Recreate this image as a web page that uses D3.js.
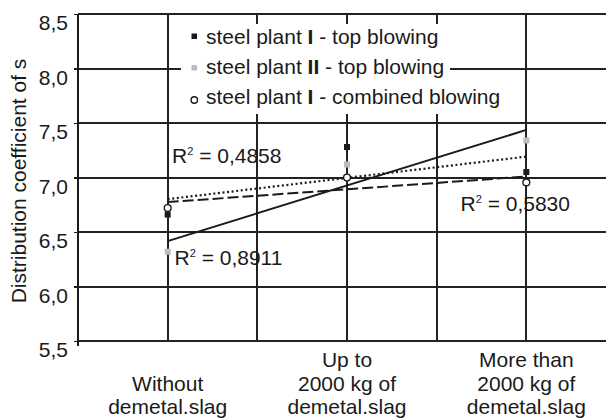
<!DOCTYPE html>
<html>
<head>
<meta charset="utf-8">
<script src="https://cdn.jsdelivr.net/npm/d3@7"></script>
<style>
  html, body { margin: 0; padding: 0; background: #fff; }
  svg { display: block; font-family: "Liberation Sans", Arial, sans-serif; }
</style>
</head>
<body>
<div id="chart"></div>
<script>
// categories (multi-line labels)
const categories = [
  ["Without", "demetal.slag"],
  ["Up to", "2000 kg of", "demetal.slag"],
  ["More than", "2000 kg of", "demetal.slag"]
];
// series values
const plantITop = [6.66, 7.28, 7.05];
const plantIITop = [6.32, 7.12, 7.34];
const plantICombined = [6.72, 7.0, 6.955];
const yTicks = [5.5, 6.0, 6.5, 7.0, 7.5, 8.0, 8.5];
const legendNames = [
  ["steel plant ", "I", " - top blowing"],
  ["steel plant ", "II", " - top blowing"],
  ["steel plant ", "I", " - combined blowing"]
];
const r2Values = ["0,4858", "0,8911", "0,5830"];

const width = 606;
const height = 418;
const ink = "#1a1a1a";
const fontSize = 21;

const svg = d3.select("#chart").append("svg")
  .attr("width", width)
  .attr("height", height);

const x = d3.scaleLinear().domain([-0.5, 2.5]).range([78, 616]);
const y = d3.scaleLinear().domain([5.5, 8.5]).range([341, 14]);

// grid
const grid = svg.append("g").attr("stroke", "#222").attr("shape-rendering", "crispEdges");
grid.selectAll(".hgrid")
  .data(yTicks)
  .enter().append("line")
  .attr("x1", x(-0.5)).attr("x2", x(2.5))
  .attr("y1", d => y(d)).attr("y2", d => y(d))
  .attr("stroke-width", 2);
grid.selectAll(".vgrid")
  .data(d3.range(0, 2.5, 0.5))
  .enter().append("line")
  .attr("x1", d => Math.round(x(d))).attr("x2", d => Math.round(x(d)))
  .attr("y1", y(8.5)).attr("y2", y(5.5))
  .attr("stroke-width", 1.6);

// y axis
const yAxis = svg.append("g")
  .attr("transform", "translate(" + x(-0.5) + ",0)")
  .call(d3.axisLeft(y).tickValues(yTicks).tickSize(4).tickPadding(6)
    .tickFormat(d => d3.format(".1f")(d).replace(".", ",")));
yAxis.select(".domain").attr("stroke", ink).attr("stroke-width", 2)
  .attr("shape-rendering", "crispEdges")
  .attr("d", "M0," + y(8.5) + "V" + (y(5.5) + 5));
yAxis.selectAll(".tick line").attr("stroke", ink).attr("stroke-width", 1.5)
  .attr("shape-rendering", "crispEdges");
yAxis.selectAll(".tick text")
  .attr("fill", ink)
  .attr("font-size", fontSize)
  .attr("font-family", "'Liberation Sans', Arial, sans-serif")
  .attr("dy", "0.75em");

svg.append("text")
  .attr("transform", "translate(26," + 181 + ") rotate(-90)")
  .attr("text-anchor", "middle")
  .attr("font-size", fontSize)
  .attr("fill", ink)
  .text("Distribution coefficient of s");

// x category labels (bottom aligned)
const lineGap = 23.5;
const lastBase = 414;
const xLabels = svg.append("g").attr("font-size", fontSize).attr("fill", ink)
  .attr("text-anchor", "middle");
xLabels.selectAll("text")
  .data(categories)
  .enter().append("text")
  .attr("x", (d, i) => x(i))
  .each(function (d) {
    d3.select(this).selectAll("tspan")
      .data(d)
      .enter().append("tspan")
      .attr("x", d3.select(this).attr("x"))
      .attr("y", (t, j) => lastBase - (d.length - 1 - j) * lineGap)
      .text(t => t);
  });

// legend box (white, hides grid)
svg.append("rect")
  .attr("x", 181).attr("y", 24)
  .attr("width", 269).attr("height", 90)
  .attr("fill", "#fff");

// least-squares trend lines
function fit(vals) {
  const xs = vals.map((v, i) => i);
  const mx = d3.mean(xs), my = d3.mean(vals);
  const b = d3.sum(xs, (xi, i) => (xi - mx) * (vals[i] - my)) / d3.sum(xs, xi => (xi - mx) * (xi - mx));
  const a = my - b * mx;
  return [0, vals.length - 1].map(xi => [xi, a + b * xi]);
}
const line = d3.line().x(d => x(d[0])).y(d => y(d[1]));

const trends = [
  { vals: plantITop, dash: "2,2.6", w: 2.2 },
  { vals: plantIITop, dash: null, w: 2 },
  { vals: plantICombined, dash: "11,4", w: 2 }
];
svg.append("g").selectAll("path")
  .data(trends)
  .enter().append("path")
  .attr("d", d => line(fit(d.vals)))
  .attr("fill", "none")
  .attr("stroke", ink)
  .attr("stroke-width", d => d.w)
  .attr("stroke-dasharray", d => d.dash);

// markers
const sq = 6;
svg.append("g").selectAll("rect")
  .data(plantIITop)
  .enter().append("rect")
  .attr("x", (d, i) => x(i) - sq / 2).attr("y", d => y(d) - sq / 2)
  .attr("width", sq).attr("height", sq)
  .attr("fill", "#bdbdbd");
svg.append("g").selectAll("rect")
  .data(plantITop)
  .enter().append("rect")
  .attr("x", (d, i) => x(i) - sq / 2).attr("y", d => y(d) - sq / 2)
  .attr("width", sq).attr("height", sq)
  .attr("fill", ink);
svg.append("g").selectAll("circle")
  .data(plantICombined)
  .enter().append("circle")
  .attr("cx", (d, i) => x(i)).attr("cy", d => y(d))
  .attr("r", 3.4)
  .attr("fill", "#fff")
  .attr("stroke", ink)
  .attr("stroke-width", 1.4);

// legend entries
const legend = svg.append("g").attr("font-size", fontSize).attr("fill", ink);
const rowBase = [43.5, 73.5, 104.3];
legend.append("rect").attr("x", 191.5).attr("y", 33.5).attr("width", 5.5).attr("height", 5.5).attr("fill", ink);
legend.append("rect").attr("x", 191.5).attr("y", 65).attr("width", 5.5).attr("height", 5.5).attr("fill", "#bdbdbd");
legend.append("circle").attr("cx", 194.3).attr("cy", 100).attr("r", 3.2)
  .attr("fill", "#fff").attr("stroke", ink).attr("stroke-width", 1.4);
legend.selectAll("text")
  .data(legendNames)
  .enter().append("text")
  .attr("x", 206)
  .attr("y", (d, i) => rowBase[i])
  .each(function (d) {
    d3.select(this).selectAll("tspan")
      .data(d)
      .enter().append("tspan")
      .attr("font-weight", (t, j) => j === 1 ? "bold" : null)
      .text(t => t);
  });

// R² annotations
const r2Pos = [[172, 163], [174.5, 265], [460.5, 210.7]];
const r2 = svg.append("g").attr("font-size", fontSize).attr("fill", ink);
r2.selectAll("text")
  .data(r2Values)
  .enter().append("text")
  .attr("x", (d, i) => r2Pos[i][0])
  .attr("y", (d, i) => r2Pos[i][1])
  .each(function (d) {
    const t = d3.select(this);
    t.append("tspan").text("R");
    t.append("tspan").attr("font-size", 11).attr("dy", -8).text("2");
    t.append("tspan").attr("dy", 8).text(" = " + d);
  });
</script>
</body>
</html>
